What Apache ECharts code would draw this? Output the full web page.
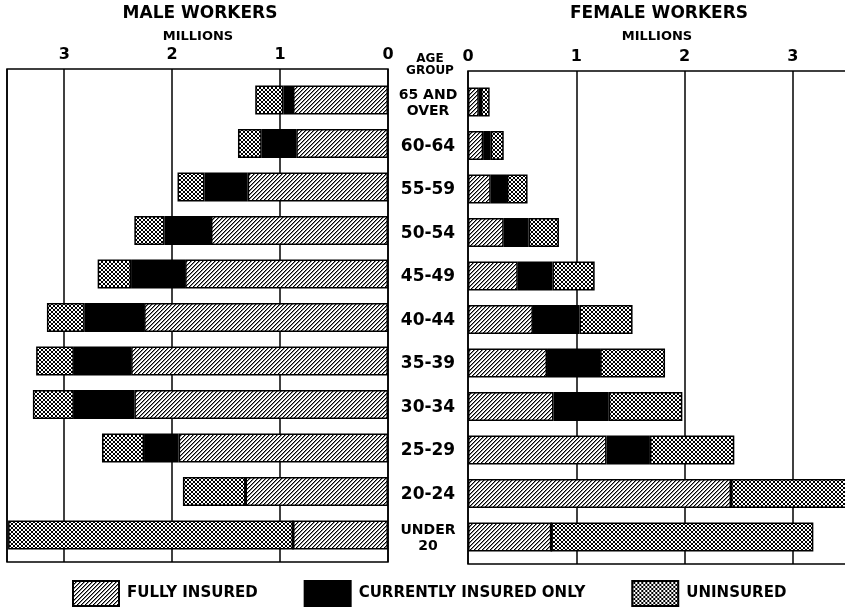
<!DOCTYPE html>
<html>
<head>
<meta charset="utf-8">
<script src="https://cdn.jsdelivr.net/npm/echarts@6/dist/echarts.min.js"></script>
<style>
  html, body { margin: 0; padding: 0; background: #fff; }
  #chart { width: 845px; height: 608px; }
</style>
</head>
<body>
<div id="chart"></div>
<script>
// data, millions of workers
var ageGroups = ["65 AND\nOVER", "60-64", "55-59", "50-54", "45-49", "40-44", "35-39", "30-34", "25-29", "20-24", "UNDER\n20"];
var maleFully     = [0.88, 0.85, 1.30, 1.64, 1.88, 2.26, 2.38, 2.35, 1.94, 1.32, 0.88];
var maleCurrent   = [0.09, 0.32, 0.40, 0.43, 0.50, 0.55, 0.53, 0.56, 0.32, 0, 0];
var maleUninsured = [0.26, 0.22, 0.25, 0.28, 0.31, 0.35, 0.35, 0.38, 0.39, 0.58, 2.64];
var femaleFully     = [0.10, 0.14, 0.21, 0.33, 0.46, 0.60, 0.73, 0.79, 1.28, 2.43, 0.77];
var femaleCurrent   = [0.02, 0.07, 0.15, 0.23, 0.32, 0.43, 0.49, 0.51, 0.40, 0, 0];
var femaleUninsured = [0.08, 0.12, 0.19, 0.28, 0.39, 0.49, 0.60, 0.68, 0.78, 1.20, 2.42];
var millionTicks = ["0", "1", "2", "3"];

var FONT = "DejaVu Sans";

// pixel patterns: diagonal hatch and cross hatch
function makeTile(pixels, soft) {
  var c = document.createElement("canvas");
  c.width = 4; c.height = 4;
  var ctx = c.getContext("2d");
  ctx.fillStyle = "#fff";
  ctx.fillRect(0, 0, 4, 4);
  ctx.fillStyle = "#888";
  (soft || []).forEach(function (p) { ctx.fillRect(p[0], p[1], 1, 1); });
  ctx.fillStyle = "#000";
  pixels.forEach(function (p) { ctx.fillRect(p[0], p[1], 1, 1); });
  return c;
}
var hatchFill = {
  image: makeTile([[0, 3], [1, 2], [2, 1], [3, 0]], [[1, 3], [2, 2], [3, 1], [0, 0]]),
  repeat: "repeat"
};
var crossFill = {
  image: makeTile([[0, 0], [1, 1], [2, 2], [3, 3], [3, 0], [2, 1], [1, 2], [0, 3]]),
  repeat: "repeat"
};

var chart = echarts.init(document.getElementById("chart"));

function tickLabel(v) {
  return Number.isInteger(v) ? millionTicks[v] : "";
}

function ageLabel(v) {
  // two-line groups are lettered smaller
  if (v.indexOf("\n") >= 0) {
    return v.split("\n").map(function (s) { return "{s|" + s + "}"; }).join("\n");
  }
  return v;
}

var frameAxis = function (gridIndex, max) {
  return {
    type: "value", gridIndex: gridIndex, min: 0, max: max, interval: 1,
    inverse: gridIndex === 0, position: "top",
    axisLine: { show: false }, axisTick: { show: false },
    splitLine: { show: true, lineStyle: { color: "#000", width: 1.5 } },
    axisLabel: { formatter: tickLabel, color: "#000", fontFamily: FONT, fontSize: 16, fontWeight: "bold", margin: 6 }
  };
};
var barAxis = function (gridIndex, max) {
  return { type: "value", gridIndex: gridIndex, min: 0, max: max, inverse: gridIndex === 1, show: false, splitLine: { show: false } };
};

function bar(name, data, fill, x, y, stack) {
  return {
    name: name, type: "bar", stack: stack, data: data,
    xAxisIndex: x, yAxisIndex: y, barWidth: 29,
    itemStyle: { color: fill, borderColor: "#000", borderWidth: 1.5 },
    emphasis: { disabled: true }
  };
}

var option = {
  backgroundColor: "#fff",
  animation: false,
  grid: [
    { left: 7, top: 69, width: 381, height: 493, show: true, borderColor: "#000", borderWidth: 1.5, backgroundColor: "transparent", outerBoundsMode: "none" },
    { left: 7, top: 78.25, width: 381, height: 478.5, outerBoundsMode: "none" },
    { left: 468, top: 71, width: 380, height: 493, show: true, borderColor: "#000", borderWidth: 1.5, backgroundColor: "transparent", outerBoundsMode: "none" },
    { left: 468, top: 80.25, width: 380, height: 478.5, outerBoundsMode: "none" }
  ],
  xAxis: [frameAxis(0, 3.53), barAxis(1, 3.53), frameAxis(2, 3.51), barAxis(3, 3.51)],
  yAxis: [
    { type: "value", gridIndex: 0, show: false, splitLine: { show: false } },
    {
      type: "category", gridIndex: 1, data: ageGroups, inverse: true, position: "right",
      axisLine: { show: false }, axisTick: { show: false },
      axisLabel: {
        formatter: ageLabel, align: "center", margin: 40, color: "#000",
        fontFamily: FONT, fontWeight: "bold", fontSize: 17, padding: [6, 0, 0, 0],
        rich: { s: { fontFamily: FONT, fontWeight: "bold", fontSize: 14, lineHeight: 16, color: "#000", align: "center" } }
      }
    },
    { type: "value", gridIndex: 2, show: false, splitLine: { show: false } },
    { type: "category", gridIndex: 3, data: ageGroups, inverse: true, show: false }
  ],
  legend: {
    left: 67, top: 575, itemWidth: 46, itemHeight: 25, itemGap: 46,
    icon: "rect", selectedMode: false,
    data: ["FULLY INSURED", "CURRENTLY INSURED ONLY", "UNINSURED"],
    textStyle: { color: "#000", fontFamily: FONT, fontWeight: "bold", fontSize: 15, padding: [0, 0, 0, 3] }
  },
  graphic: [
    { type: "text", x: 200, y: 14, style: { text: "MALE WORKERS", font: "bold 17px " + FONT, fill: "#000", textAlign: "center", textVerticalAlign: "middle" } },
    { type: "text", x: 198, y: 37, style: { text: "MILLIONS", font: "bold 13px " + FONT, fill: "#000", textAlign: "center", textVerticalAlign: "middle" } },
    { type: "text", x: 659, y: 14, style: { text: "FEMALE WORKERS", font: "bold 17px " + FONT, fill: "#000", textAlign: "center", textVerticalAlign: "middle" } },
    { type: "text", x: 657, y: 37, style: { text: "MILLIONS", font: "bold 13px " + FONT, fill: "#000", textAlign: "center", textVerticalAlign: "middle" } },
    { type: "text", x: 430, y: 65, style: { text: "AGE\nGROUP", font: "bold 12px " + FONT, lineHeight: 12, fill: "#000", textAlign: "center", textVerticalAlign: "middle" } }
  ],
  series: [
    bar("FULLY INSURED", maleFully, hatchFill, 1, 1, "male"),
    bar("CURRENTLY INSURED ONLY", maleCurrent, "#000", 1, 1, "male"),
    bar("UNINSURED", maleUninsured, crossFill, 1, 1, "male"),
    bar("FULLY INSURED", femaleFully, hatchFill, 3, 3, "female"),
    bar("CURRENTLY INSURED ONLY", femaleCurrent, "#000", 3, 3, "female"),
    bar("UNINSURED", femaleUninsured, crossFill, 3, 3, "female")
  ]
};

chart.setOption(option);
</script>
</body>
</html>
